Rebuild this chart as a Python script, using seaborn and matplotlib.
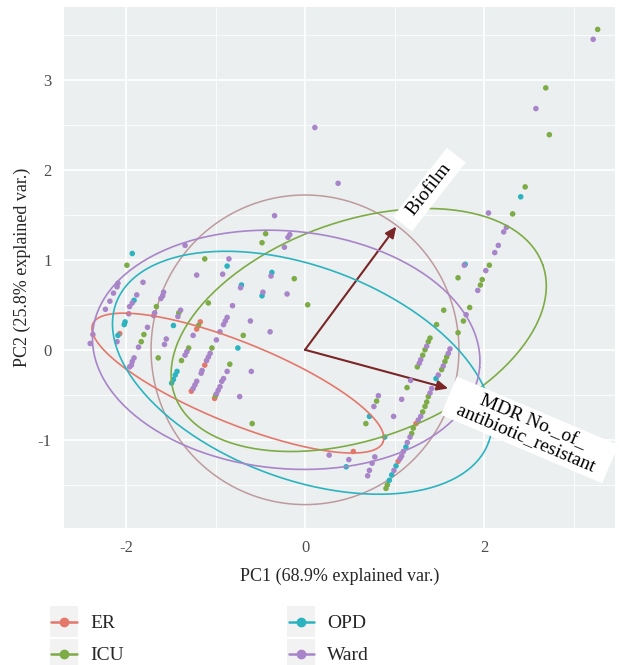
import numpy as np
import pandas as pd
import matplotlib
matplotlib.use("Agg")
import matplotlib.pyplot as plt
import seaborn as sns
from matplotlib.legend_handler import HandlerBase
from matplotlib.patches import Rectangle
from matplotlib.lines import Line2D
from matplotlib.ticker import MultipleLocator

# ---------------- data ----------------
groups = ["ER", "ICU", "OPD", "Ward"]
group_colors = ["#E4776B", "#7DAB45", "#2BB3C0", "#A884C9"]

er_x = [-2.07, -1.17, -1.21, -1.12, -1.27, -1.01, 1.24, 1.04, 0.54]
er_y = [0.18, 0.31, 0.23, -0.17, -0.46, -0.54, -0.82, -1.24, -1.13]

icu_x = [-1.99, -1.80, -1.83, -1.64, -1.66, -1.41, -1.08, -1.12, -1.19, -1.04, -1.30, -1.38, -0.84, -1.00,
         -0.44, -0.48, -0.12, 0.03, -0.69, -0.59, 0.80, 0.68, 1.14,
         3.27, 2.69, 2.73, 2.46, 2.32, 2.06, 1.98, 1.96, 1.71, 1.55, 1.84, 1.77, 1.47, 1.71,
         1.397, 1.378, 1.341, 1.315, 1.255,
         1.583, 1.564, 1.527,
         1.378, 1.360, 1.341, 1.315, 1.210, 1.192, 0.920, 0.905]
icu_y = [0.94, 0.17, 0.09, -0.09, 0.48, 0.41, 0.52, 1.01, 0.27, 0.02, 0.02, -0.12, -0.16, -0.51,
         1.29, 1.19, 0.79, 0.50, 0.16, -0.82, -0.57, -0.82, -0.42,
         3.56, 2.91, 2.39, 1.81, 1.51, 0.94, 0.78, 0.72, 0.80, 0.44, 0.47, 0.32, 0.28, 0.19,
         0.13, 0.09, 0.00, -0.06, -0.19,
         -0.08, -0.13, -0.22,
         -0.52, -0.58, -0.63, -0.69, -0.87, -0.93, -1.50, -1.54]

opd_x = [-1.93, -1.91, -2.01, -2.02, -2.09, -1.47, -0.87, -1.43, -1.45, -1.47, -1.49, -0.37, -0.71,
         -0.48, -0.75, 0.72, 0.89, 0.46, 1.79, 2.41, 1.464, 1.128, 1.017, 0.969, 0.942]
opd_y = [1.07, 0.55, 0.31, 0.28, 0.16, 0.27, 0.93, -0.24, -0.28, -0.33, -0.37, 0.86, 0.72,
         0.60, 0.02, -0.74, -0.97, -1.30, 0.95, 1.70, -0.32, -1.08, -1.29, -1.39, -1.45]

ward_x = [-2.09, -2.10, -2.14, -2.18, -2.23, -1.81, -1.88, -1.93, -1.96, -1.97, -2.10, -2.37, -2.40,
          -1.76, -1.86, -1.91, -1.93, -1.94, -1.96, -1.34, -1.58, -1.59, -1.61, -1.68, -1.69, -1.55,
          -1.57, -1.39, -1.42, -1.21, -0.85, -0.92, -0.81, -1.25, -0.87, -0.89, -0.91, -0.95, -0.99,
          -1.32, -1.34, -1.06, -1.08, -1.10, -1.15, -1.16, -1.21, -1.23, -1.25, -0.87, -0.91, -0.93,
          -0.95, -0.97, -0.99,
          0.11, 0.37, -0.34, -0.17, -0.19, -0.23, -0.38, -0.72, -0.47, -0.20, -0.61, -0.39, -0.60, -0.73,
          1.18, 1.08, 0.99, 0.82, 0.77, 0.78, 0.75, 0.72, 0.70, 0.49, 0.27, 1.78, 1.93, 2.02, 2.16,
          2.12, 2.25, 2.22, 2.05, 2.58, 3.22, 1.80,
          1.360, 1.293, 1.277,
          1.620, 1.601, 1.545, 1.489,
          1.416, 1.397, 1.293, 1.266, 1.173, 1.143, 1.098, 1.080, 1.061, 0.994]
ward_y = [0.74, 0.70, 0.63, 0.54, 0.45, 0.75, 0.61, 0.52, 0.48, 0.40, 0.09, 0.17, 0.07,
          0.25, 0.03, -0.09, -0.13, -0.17, -0.19, 1.16, 0.64, 0.60, 0.57, 0.41, 0.38, 0.12,
          0.06, 0.44, 0.37, 0.83, 1.01, 0.84, 0.49, 0.16, 0.36, 0.32, 0.28, 0.20, 0.11,
          -0.02, -0.06, -0.04, -0.08, -0.12, -0.23, -0.26, -0.35, -0.39, -0.43, -0.24, -0.32, -0.35,
          -0.41, -0.45, -0.49,
          2.47, 1.85, 1.49, 1.28, 1.25, 1.14, 0.82, 0.69, 0.64, 0.62, 0.32, 0.20, -0.24, -0.52,
          -0.34, -0.55, -0.74, -0.51, -0.63, -1.19, -1.26, -1.34, -1.40, -1.22, -1.17, 0.94, 0.66, 0.88, 1.16,
          1.08, 1.36, 1.31, 1.52, 2.68, 3.45, 0.39,
          0.04, -0.11, -0.15,
          0.01, -0.04, -0.18, -0.28,
          -0.43, -0.48, -0.74, -0.78, -0.97, -1.03, -1.13, -1.18, -1.21, -1.34]

# normal-probability ellipses per group: centre, semi-axes, angle (deg)
ell_cx = [-0.75, 0.60, -0.03, -0.21]
ell_cy = [-0.37, 0.22, -0.255, 0.00]
ell_a = [1.75, 2.18, 2.22, 2.17]
ell_b = [0.45, 1.21, 1.18, 1.32]
ell_ang = [-22.0, 19.3, -20.4, -5.2]

circle_r = 1.72

var_names = ["Biofilm", "MDR No._of_\nantibiotic_resistant"]
load_x = [1.02, 1.60]
load_y = [1.37, -0.43]
label_x = [1.39, 2.51]
label_y = [1.78, -0.89]
label_rot = [52, -23]

# ---------------- frames ----------------
pts = pd.concat([
    pd.DataFrame({"PC1": er_x, "PC2": er_y, "group": "ER"}),
    pd.DataFrame({"PC1": icu_x, "PC2": icu_y, "group": "ICU"}),
    pd.DataFrame({"PC1": opd_x, "PC2": opd_y, "group": "OPD"}),
    pd.DataFrame({"PC1": ward_x, "PC2": ward_y, "group": "Ward"}),
], ignore_index=True)

t = np.linspace(0, 2 * np.pi, 241)
ell_rows = []
for g, cx, cy, a, b, ang in zip(groups, ell_cx, ell_cy, ell_a, ell_b, ell_ang):
    th = np.deg2rad(ang)
    ex = cx + a * np.cos(t) * np.cos(th) - b * np.sin(t) * np.sin(th)
    ey = cy + a * np.cos(t) * np.sin(th) + b * np.sin(t) * np.cos(th)
    ell_rows.append(pd.DataFrame({"x": ex, "y": ey, "group": g, "k": np.arange(len(t))}))
ells = pd.concat(ell_rows, ignore_index=True)

# ---------------- style ----------------
sns.set_theme(style="darkgrid")
serif = ["Liberation Serif", "DejaVu Serif"]
plt.rcParams["font.family"] = serif
plt.rcParams["axes.unicode_minus"] = False

W, H = 619, 665
fig = plt.figure(figsize=(W / 100, H / 100), dpi=100)
ax = fig.add_axes([64 / W, 1 - 528 / H, (615 - 64) / W, (528 - 7) / H])
ax.set_facecolor("#EBEFEF")

x0, xs = 305.0, 89.5
y0, ys = 349.8, 90.0
ax.set_xlim((64 - x0) / xs, (615 - x0) / xs)
ax.set_ylim((y0 - 528) / ys, (y0 - 7) / ys)

ax.xaxis.set_major_locator(MultipleLocator(2))
ax.xaxis.set_minor_locator(MultipleLocator(1))
ax.yaxis.set_major_locator(MultipleLocator(1))
ax.yaxis.set_minor_locator(MultipleLocator(0.5))
ax.grid(which="major", color="white", lw=1.2)
ax.grid(which="minor", color="white", lw=0.55)
ax.set_axisbelow(True)
for s in ax.spines.values():
    s.set_visible(False)
ax.tick_params(which="major", length=3, width=0.8, color="#333333", labelsize=12,
               labelcolor="#4D4D4D", pad=6)
ax.tick_params(which="minor", length=0)

# circle
tc = np.linspace(0, 2 * np.pi, 361)
ax.plot(circle_r * np.cos(tc), circle_r * np.sin(tc), color="#BE9A9E", lw=1.1, zorder=1)

# arrows
for lx, ly in zip(load_x, load_y):
    ax.annotate("", xy=(lx, ly), xytext=(0, 0),
                arrowprops=dict(arrowstyle="-|>,head_length=0.55,head_width=0.25",
                                color="#7A2626", lw=1.5, shrinkA=0, shrinkB=0),
                zorder=2)

# points
sns.scatterplot(data=pts, x="PC1", y="PC2", hue="group", hue_order=groups,
                palette=group_colors, s=16, linewidth=0, legend=False, ax=ax, zorder=3)

# ellipses
sns.lineplot(data=ells, x="x", y="y", hue="group", hue_order=groups, palette=group_colors,
             sort=False, estimator=None, units="group", lw=1.2, legend=False, ax=ax, zorder=4)

# variable labels
for name, lx, ly, rot in zip(var_names, label_x, label_y, label_rot):
    txt = "\n".join("  " + s + "  " for s in name.split("\n"))
    ax.text(lx, ly, txt, rotation=rot, rotation_mode="anchor", ha="center", va="center",
            multialignment="center", fontsize=14, color="black", linespacing=1.05,
            bbox=dict(boxstyle="square,pad=0.18", fc="white", ec="none"), zorder=6,
            clip_on=False)

ax.set_xlabel("PC1 (68.9% explained var.)", fontsize=13, labelpad=8)
ax.set_ylabel("PC2 (25.8% explained var.)", fontsize=13, labelpad=5)


# legend with grey key boxes
class KeyHandler(HandlerBase):
    def __init__(self, color):
        super().__init__()
        self.color = color

    def create_artists(self, legend, orig_handle, xdescent, ydescent, width, height, fontsize, trans):
        rect = Rectangle((-xdescent, -ydescent), width, height, facecolor="#F2F2F2",
                         edgecolor="none", transform=trans)
        yc = -ydescent + height / 2
        line = Line2D([-xdescent + 1, -xdescent + width - 1], [yc, yc], color=self.color,
                      lw=1.8, transform=trans)
        dot = Line2D([-xdescent + width / 2], [yc], marker="o", ms=6, color=self.color,
                     lw=0, transform=trans)
        return [rect, line, dot]


handles = [Line2D([], [], color=c) for c in group_colors]
hmap = {h: KeyHandler(c) for h, c in zip(handles, group_colors)}
fig.legend(handles, groups, handler_map=hmap, ncol=2, loc="upper left",
           bbox_to_anchor=(50 / W, 1 - 606 / H), frameon=False, fontsize=14,
           borderpad=0, borderaxespad=0, handlelength=1.45, handleheight=2.08,
           labelspacing=0.08, handletextpad=0.62, columnspacing=8.4)

fig.savefig("out.png", dpi=100)
